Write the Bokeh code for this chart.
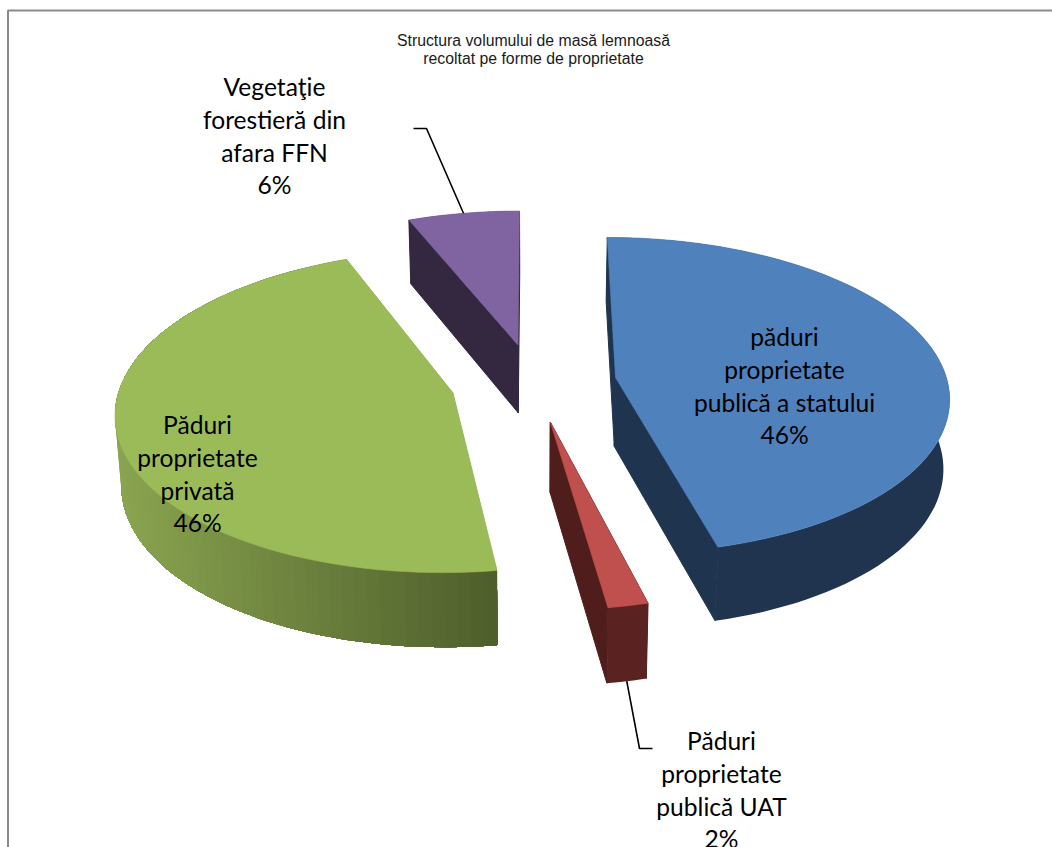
import numpy as np
from bokeh.plotting import figure
from bokeh.models import Range1d, ColumnDataSource
from bokeh.core.properties import value
from bokeh.embed import file_html
from bokeh.resources import INLINE

# ---- data -------------------------------------------------------------
title_lines = ["Structura volumului de masă lemnoasă", "recoltat pe forme de proprietate"]
categories = [
    ["păduri", "proprietate", "publică a statului"],
    ["Păduri", "proprietate", "publică UAT"],
    ["Păduri", "proprietate", "privată"],
    ["Vegetaţie", "forestieră din", "afara FFN"],
]
shares = [46.0, 1.7, 46.15, 6.15]
top_colors = ["#4f81bd", "#c0504d", "#9bbb59", "#8064a2"]
cut_colors = ["#1f344e", "#4f1e1c", "#9bbb59", "#332840"]
rim_near = ["#20344f", "#5a2321", "#4f5f2c", "#332840"]
rim_far = ["#20344f", "#5a2321", "#8aa550", "#332840"]

# ---- style / layout (page pixels) --------------------------------------
W, H = 1052, 847
X0, Y0, S, K, C, EXPLODE, DEPTH, KD, BOTTOM_SCALE = 533.0, 382.0, 332.0, 0.1126, 157.0, 0.25, 69.0, 0.07, 0.985
label_x = [784, 721, 197, 274]
label_y = [336, 740, 424, 86]
LINE_H = 32.8
FONT = value("Lato")
FONT_SIZE = "24.6px"

def project(u, v, bottom=False):
    d = 1 - K * v
    x = S * u / d
    y = C * v / d
    if bottom:
        return X0 + x * BOTTOM_SCALE, Y0 + y + DEPTH / (1 - KD * v)
    return X0 + x, Y0 + y

def hexmix(a, b, t):
    ca = [int(a[i:i + 2], 16) for i in (1, 3, 5)]
    cb = [int(b[i:i + 2], 16) for i in (1, 3, 5)]
    return "#%02x%02x%02x" % tuple(int(round(p + (q - p) * t)) for p, q in zip(ca, cb))

p = figure(width=W, height=H, output_backend="svg", toolbar_location=None,
           x_range=Range1d(0, W), y_range=Range1d(H, 0),
           min_border=0, outline_line_color=None)
p.axis.visible = False
p.grid.visible = False
p.background_fill_color = "white"
p.border_fill_color = "white"

# frame of the chart area: left and top only, cut by the page edges
p.line([7.5, 7.5, W], [H, 10, 10], line_color="#898989", line_width=2)

edges = 2 * np.pi * np.concatenate([[0], np.cumsum(shares)]) / sum(shares)
mids = (edges[:-1] + edges[1:]) / 2

for i in range(len(shares)):
    a0, a1, m = edges[i], edges[i + 1], mids[i]
    ou, ov = EXPLODE * np.sin(m), -EXPLODE * np.cos(m)
    th = np.linspace(a0, a1, max(int(np.degrees(a1 - a0) / 2), 3) + 1)
    u = ou + np.sin(th)
    v = ov - np.cos(th)
    tx, ty = project(u, v)
    bx, by = project(u, v, True)
    ax, ay = project(ou, ov)
    abx, aby = project(ou, ov, True)
    # radial cut faces
    p.patch([tx[0], ax, abx, bx[0]], [ty[0], ay, aby, by[0]], fill_color=cut_colors[i], line_color=cut_colors[i])
    p.patch([tx[-1], ax, abx, bx[-1]], [ty[-1], ay, aby, by[-1]], fill_color=cut_colors[i], line_color=cut_colors[i])
    # outer rim: painted from the far end so that each band covers the joint of the last
    if rim_far[i] == rim_near[i]:
        stops = [len(th)]
    else:
        stops = list(range(len(th), 1, -1))
    for stop in stops:
        t = np.clip((tx[stop - 2] - tx.min()) / max(tx.max() - tx.min(), 1), 0, 1)
        col = hexmix(rim_far[i], rim_near[i], t)
        p.patch(list(tx[:stop]) + list(bx[:stop][::-1]),
                list(ty[:stop]) + list(by[:stop][::-1]),
                fill_color=col, line_color=None)
    # top surface
    p.patch(list(tx) + [ax], list(ty) + [ay], fill_color=top_colors[i], line_color=top_colors[i], line_width=0.6)

# leader lines, anchored on the rim at the middle of each small slice
i = 3
lx, ly = project(EXPLODE * np.sin(mids[i]) + np.sin(mids[i]), -EXPLODE * np.cos(mids[i]) - np.cos(mids[i]))
p.line([413, 426, lx], [128, 128, ly], line_color="black", line_width=1.6)
i = 1
lx, ly = project(EXPLODE * np.sin(mids[i]) + np.sin(mids[i]), -EXPLODE * np.cos(mids[i]) - np.cos(mids[i]), True)
p.line([lx, 639, 652], [ly, 748, 748], line_color="black", line_width=1.6)

# labels
xs, ys, ts = [], [], []
for i, lines in enumerate(categories):
    rows = lines + [f"{round(shares[i])}%"]
    for r, t in enumerate(rows):
        xs.append(label_x[i]); ys.append(label_y[i] + r * LINE_H); ts.append(t)
p.text(x="x", y="y", text="t", source=ColumnDataSource(dict(x=xs, y=ys, t=ts)),
       text_font=FONT, text_font_size=FONT_SIZE, text_color="black",
       text_align="center", text_baseline="middle")

p.text(x=[533, 533], y=[40, 58], text=title_lines, text_font=value("Liberation Sans"),
       text_font_size="15.8px", text_color="#1a1a1a", text_align="center", text_baseline="middle")

open("out.html", "w").write(file_html(p, INLINE))
